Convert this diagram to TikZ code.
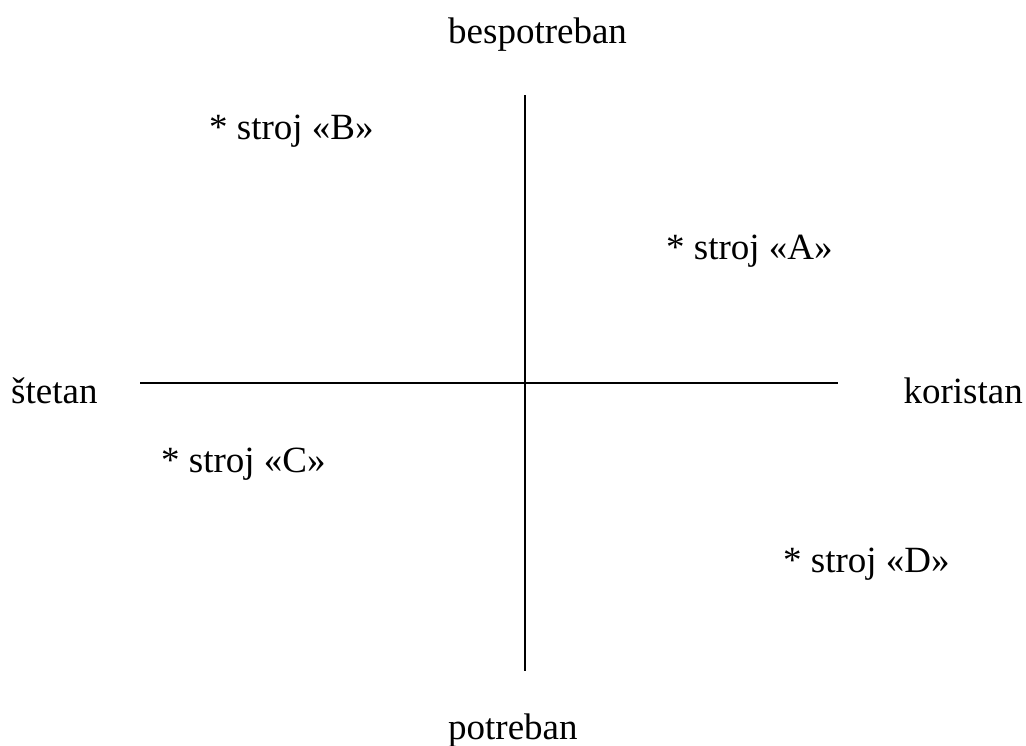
\documentclass[tikz,border=0pt]{standalone}
\usepackage{fontspec}
\setmainfont{Liberation Serif}
\begin{document}
\begin{tikzpicture}[x=1pt,y=-1pt,
  lbl/.style={inner sep=0pt,font=\fontsize{37}{44}\selectfont},
  axis/.style={line width=1.8pt,black}]
\useasboundingbox (0,0) rectangle (1026,745);
\coordinate (top) at (525,95);
\coordinate (bottom) at (525,671);
\coordinate (left) at (140,383);
\coordinate (right) at (838,383);
\draw[axis] (left) -- (right);
\draw[axis] (top) -- (bottom);
\node[lbl,anchor=base west] (bes) at (448,43) {bespotreban};
\node[lbl,anchor=base west] (pot) at (448,739) {potreban};
\node[lbl,anchor=base west] (stet) at (11,403) {štetan};
\node[lbl,anchor=base east] (kor) at (1023,403) {koristan};
\node[lbl,anchor=base west] (B) at (209,139) {* stroj «B»};
\node[lbl,anchor=base west] (A) at (666,259) {* stroj «A»};
\node[lbl,anchor=base west] (C) at (161,472) {* stroj «C»};
\node[lbl,anchor=base west] (D) at (783,572) {* stroj «D»};
\end{tikzpicture}
\end{document}
